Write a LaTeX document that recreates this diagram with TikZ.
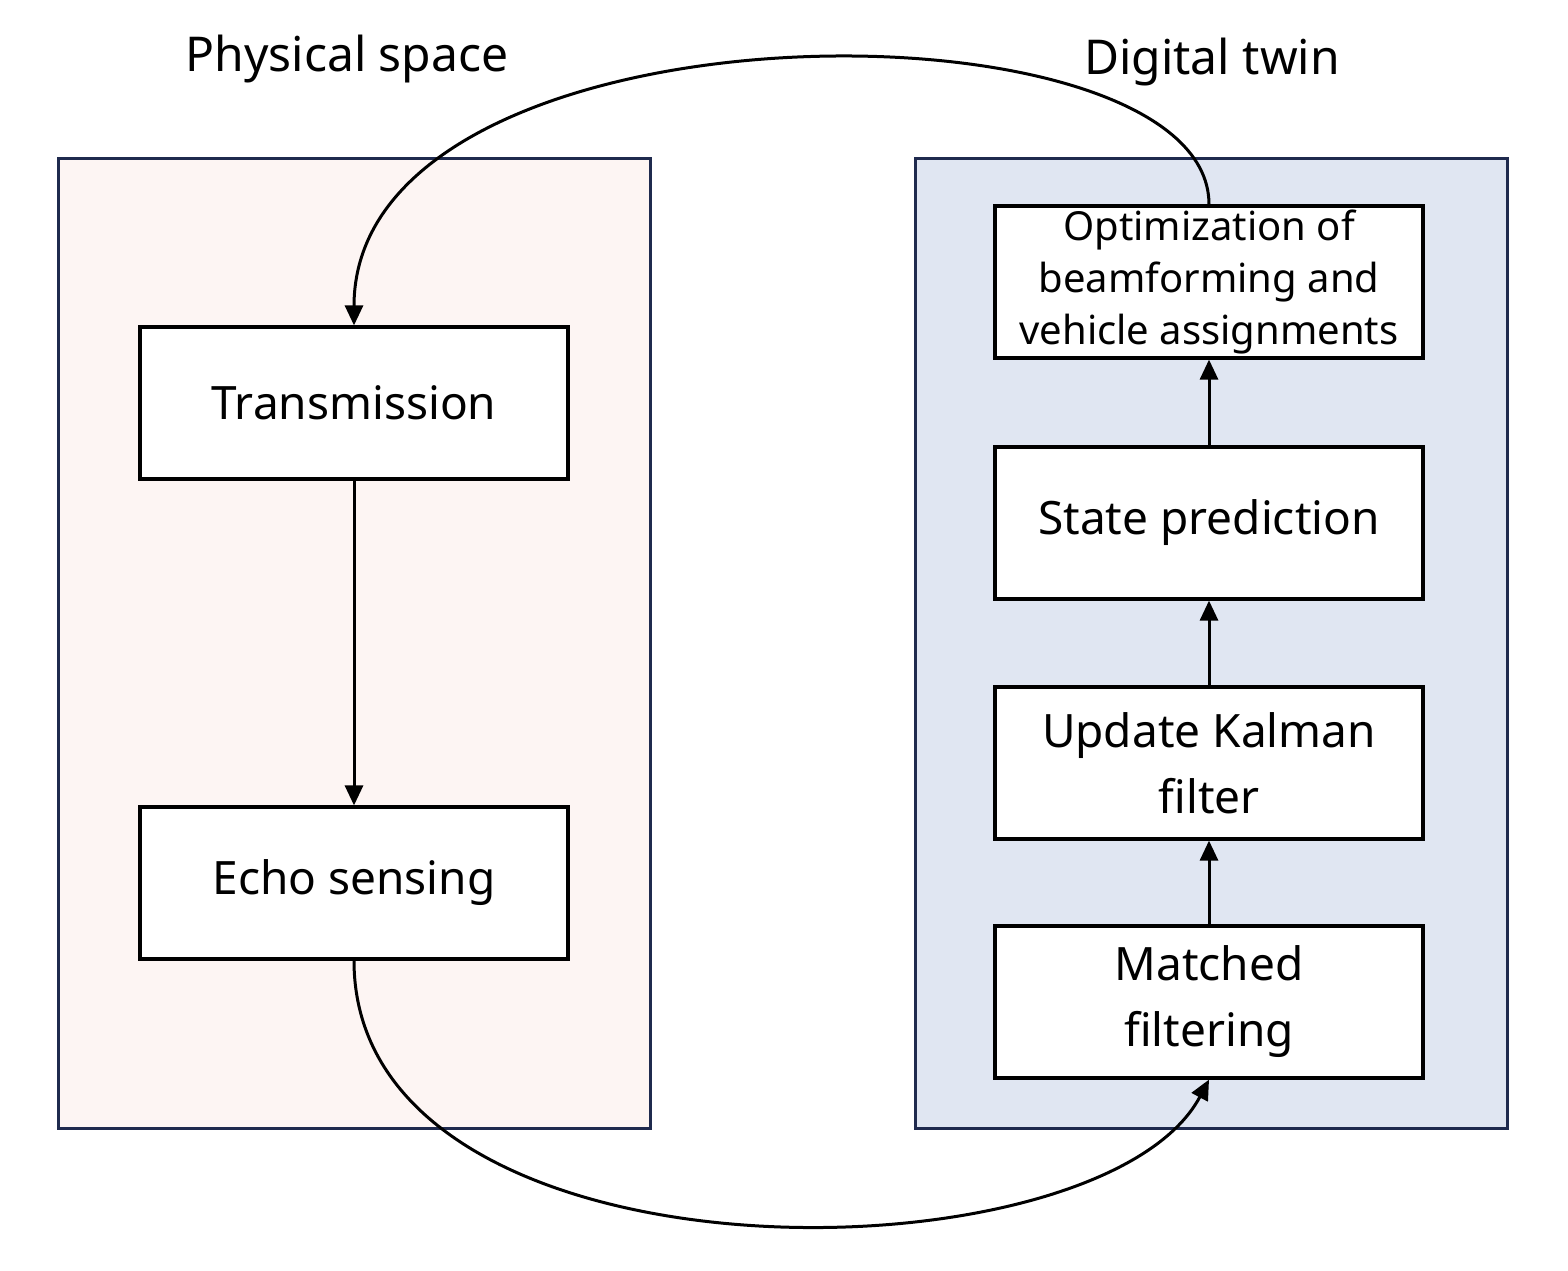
\documentclass[tikz,border=0pt]{standalone}
\usepackage{fontspec}
\setmainfont{Noto Sans}
\usetikzlibrary{arrows.meta, positioning}
\definecolor{panelpink}{HTML}{FDF5F3}
\definecolor{panelblue}{HTML}{E0E6F2}
\definecolor{paneledge}{HTML}{1F2A4E}

\begin{document}
\begin{tikzpicture}[x=0.5pt, y=-0.5pt,
    panel/.style={draw=paneledge, line width=1.5pt},
    block/.style={draw, line width=1.6pt, fill=white, minimum width=214pt, minimum height=76pt,
        inner sep=0pt, align=center, font=\fontsize{23}{30}\selectfont},
    flow/.style={-{Triangle[length=10pt, width=9pt]}, line width=1.5pt}]
    \useasboundingbox (0,0) rectangle (1568,1270);

    % the two spaces
    \draw[panel, fill=panelpink] (58,158) rectangle (650,1128);
    \draw[panel, fill=panelblue] (915,158) rectangle (1507,1128);
    \node[font=\fontsize{24}{28}\selectfont] (phys) at (347,59) {Physical space};
    \node[font=\fontsize{24}{28}\selectfont] (twin) at (1212,62) {Digital twin};

    \node[block] (tx) at (354,403) {Transmission};
    \node[block] (echo) at (354,883) {Echo sensing};

    \node[block, font=\fontsize{20}{26}\selectfont] (opt) at (1209,282) {Optimization of\\beamforming and\\vehicle assignments};
    \node[block] (pred) at (1209,523) {State prediction};
    \node[block, font=\fontsize{23}{33}\selectfont] (kal) at (1209,763) {Update Kalman\\filter};
    \node[block, font=\fontsize{23}{33}\selectfont] (mf) at (1209,1002) {Matched\\filtering};

    \draw[flow] (tx) -- (echo);
    \draw[flow] (mf) -- (kal);
    \draw[flow] (kal) -- (pred);
    \draw[flow] (pred) -- (opt);

    % loop between the spaces
    \draw[flow] (opt.north) .. controls (1209,-8) and (354,-8) .. (tx.north);
    \draw[flow] (echo.south) .. controls (354,1295) and (1100,1285) .. (mf.south);
\end{tikzpicture}
\end{document}
